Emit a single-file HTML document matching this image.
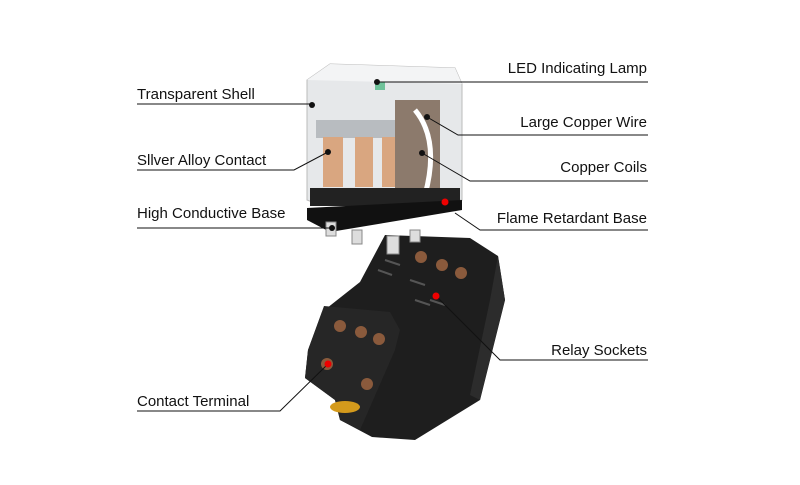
<!DOCTYPE html>
<html><head><style>
body{margin:0;background:#fff}
svg text{font-family:"Liberation Sans",sans-serif;font-size:15px;fill:#111}
</style></head><body>
<svg width="800" height="480" viewBox="0 0 800 480">
<!-- socket -->
<polygon points="385,235 470,238 498,256 500,268 505,300 480,400 415,440 372,437 340,420 335,400 305,378 308,350 322,312 360,282" fill="#1e1e1e"/>
<polygon points="498,256 505,300 480,400 470,395 490,300" fill="#2c2c2c"/>
<polygon points="324,306 390,312 400,330 395,350 360,430 340,420 335,400 305,378 308,350" fill="#262626"/>
<g fill="#8a5a3c">
<circle cx="340" cy="326" r="6"/><circle cx="361" cy="332" r="6"/><circle cx="379" cy="339" r="6"/>
<circle cx="327" cy="364" r="6"/><circle cx="367" cy="384" r="6"/>
<circle cx="421" cy="257" r="6"/><circle cx="442" cy="265" r="6"/><circle cx="461" cy="273" r="6"/>
</g>
<ellipse cx="345" cy="407" rx="15" ry="6" fill="#d49a1c"/>
<g stroke="#555" stroke-width="2">
<line x1="385" y1="260" x2="400" y2="265"/><line x1="378" y1="270" x2="392" y2="275"/><line x1="410" y1="280" x2="425" y2="285"/><line x1="430" y1="300" x2="445" y2="305"/><line x1="415" y1="300" x2="430" y2="305"/>
</g>
<!-- relay shell -->
<polygon points="307,80 330,64 455,68 462,84 462,200 320,205 307,200" fill="#e6e8ea" stroke="#bbb"/>
<polygon points="330,64 455,68 462,84 307,80" fill="#f3f4f5"/>
<rect x="316" y="120" width="85" height="18" fill="#b8bcc0"/>
<rect x="323" y="137" width="20" height="50" fill="#d9a680"/>
<rect x="355" y="137" width="18" height="50" fill="#d9a680"/>
<rect x="382" y="137" width="18" height="50" fill="#d9a680"/>
<rect x="395" y="100" width="45" height="90" fill="#8c7a6c"/>
<path d="M415,110 q25,30 10,85" stroke="#fff" stroke-width="5" fill="none"/>
<rect x="375" y="82" width="10" height="8" fill="#6fc29a"/>
<rect x="310" y="188" width="150" height="18" fill="#222"/>
<polygon points="307,208 462,200 462,210 330,232 307,220" fill="#111"/>
<g fill="#ddd" stroke="#888"><rect x="326" y="222" width="10" height="14"/><rect x="352" y="230" width="10" height="14"/><rect x="387" y="236" width="12" height="18"/><rect x="410" y="230" width="10" height="12"/></g>
<!-- leader lines -->
<g stroke="#111" stroke-width="1" fill="none">
<polyline points="137,104 312,104"/>
<polyline points="648,82 377,82"/>
<polyline points="648,135 458,135 427,117"/>
<polyline points="648,181 470,181 422,153"/>
<polyline points="137,170 294,170 328,152"/>
<polyline points="137,228 332,228"/>
<polyline points="648,230 480,230 455,213"/>
<polyline points="648,360 500,360 436,296"/>
<polyline points="137,411 280,411 328,364"/>
</g>
<g fill="#111"><circle cx="312" cy="105" r="3"/><circle cx="377" cy="82" r="3"/><circle cx="427" cy="117" r="3"/><circle cx="422" cy="153" r="3"/><circle cx="328" cy="152" r="3"/><circle cx="332" cy="228" r="3"/></g>
<g fill="#e00"><circle cx="445" cy="202" r="3.5"/><circle cx="436" cy="296" r="3.5"/><circle cx="328" cy="364" r="3.5"/></g>
<text x="137" y="99">Transparent Shell</text>
<text x="647" y="73" text-anchor="end">LED Indicating Lamp</text>
<text x="647" y="127" text-anchor="end">Large Copper Wire</text>
<text x="647" y="172" text-anchor="end">Copper Coils</text>
<text x="137" y="165">Sllver Alloy Contact</text>
<text x="137" y="218">High Conductive Base</text>
<text x="647" y="223" text-anchor="end">Flame Retardant Base</text>
<text x="647" y="355" text-anchor="end">Relay Sockets</text>
<text x="137" y="406">Contact Terminal</text>
</svg>
</body></html>
